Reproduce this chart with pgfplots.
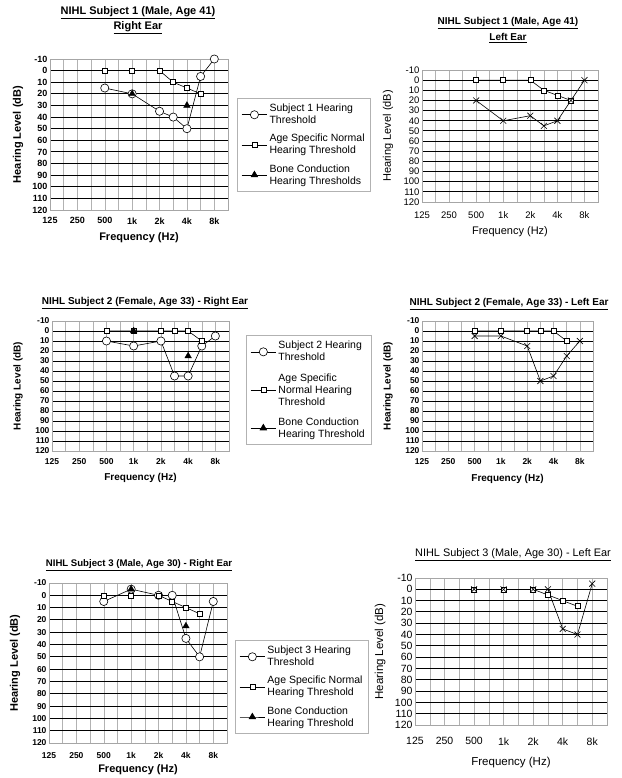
\documentclass[border=0pt]{standalone}
\usepackage{fontspec}
\setmainfont{Liberation Sans}
\usepackage{pgfplots}
\pgfplotsset{compat=1.18}
\pgfplotsset{
  audio/.style={
    scale only axis, anchor=north west,
    xmin=0, xmax=6.5, ymin=-10, ymax=120, y dir=reverse,
    xtick={0,...,6}, xticklabels={125,250,500,1k,2k,4k,8k},
    minor xtick={0.5,1.5,2.5,3.5,4.5,5.5},
    ytick={-10,0,...,120},
    xmajorgrids, xminorgrids, ymajorgrids,
    x grid style={gray!60, line width=0.5pt},
    minor x grid style={gray!60, line width=0.5pt},
    y grid style={black, line width=0.9pt},
    major tick length=0pt, minor tick length=0pt,
    axis line style={gray!70, line width=0.5pt},
    /pgf/number format/assume math mode=true,
    xticklabel style={yshift=-4pt},
    yticklabel style={xshift=1pt},
    clip=false,
    legend image code/.code={\draw[mark repeat=2,mark phase=2,##1] plot coordinates {(0cm,0cm)(0.45cm,0cm)(0.9cm,0cm)};},
  },
  circ/.style={black, line width=0.6pt, mark=*, mark size=4.1pt, mark options={fill=white, solid}},
  sq/.style={black, line width=0.6pt, mark=square*, mark size=2.5pt, mark options={fill=white, solid}},
  tri/.style={black, only marks, mark=triangle*, mark size=3.8pt},
  xx/.style={black, line width=0.6pt, mark=x, mark size=4.2pt},
  leg/.style={legend style={draw=gray!60, line width=0.5pt, anchor=north west, cells={align=left, anchor=west}, row sep=5pt, inner sep=4pt, font=\fontsize{10.5}{12}\selectfont}},
}
\begin{document}
\begin{tikzpicture}
\useasboundingbox (0,0) rectangle (621pt,-778pt);

% ---------- Panel 1 ----------
\node[font=\bfseries\fontsize{11}{12}\selectfont] at (138pt,-13pt) {\underline{NIHL Subject 1 (Male, Age 41)}};
\node[font=\bfseries\fontsize{11}{12}\selectfont] at (138pt,-28pt) {\underline{Right Ear}};
\begin{axis}[audio, leg, at={(50pt,-59pt)}, width=178pt, height=151pt,
  ticklabel style={font=\bfseries\fontsize{9}{10}\selectfont},
  xlabel={Frequency (Hz)}, ylabel={Hearing Level (dB)},
  label style={font=\bfseries\fontsize{11}{12}\selectfont},
  xlabel style={at={(axis description cs:0.5,-0.185)}, anchor=center},
  ylabel style={at={(axis description cs:-0.18,0.5)}, anchor=center},
  legend style={at={(1.051,0.742)}}]
\addplot[circ] coordinates {(2,15)(3,20)(4,35)(4.5,40)(5,50)(5.5,5)(6,-10)};
\addplot[sq] coordinates {(2,0)(3,0)(4,0)(4.5,10)(5,15)(5.5,20)};
\addplot[tri, forget plot] coordinates {(3,20)(5,30)};
\addlegendimage{black, line width=0.6pt, mark=triangle*, mark size=3.8pt}
\legend{Subject 1 Hearing\\Threshold, Age Specific Normal\\Hearing Threshold, Bone Conduction\\Hearing Thresholds}
\end{axis}

% ---------- Panel 2 ----------
\node[font=\bfseries\fontsize{10}{11}\selectfont] at (508pt,-23pt) {\underline{NIHL Subject 1 (Male, Age 41)}};
\node[font=\bfseries\fontsize{10}{11}\selectfont] at (508pt,-38pt) {\underline{Left Ear}};
\begin{axis}[audio, at={(422pt,-70pt)}, width=176pt, height=132pt,
  ticklabel style={font=\fontsize{9.5}{10}\selectfont},
  xticklabel style={yshift=-2pt},
  xlabel={Frequency (Hz)}, ylabel={Hearing Level (dB)},
  label style={font=\fontsize{11}{12}\selectfont},
  xlabel style={at={(axis description cs:0.5,-0.227)}, anchor=center},
  ylabel style={at={(axis description cs:-0.193,0.5)}, anchor=center}]
\addplot[sq] coordinates {(2,0)(3,0)(4,0)(4.5,10)(5,15)(5.5,20)};
\addplot[xx] coordinates {(2,20)(3,40)(4,35)(4.5,45)(5,40)(5.5,20)(6,0)};
\end{axis}

% ---------- Panel 3 ----------
\node[font=\bfseries\fontsize{10}{11}\selectfont] at (145pt,-303pt) {\underline{NIHL Subject 2 (Female, Age 33) - Right Ear}};
\begin{axis}[audio, leg, at={(52pt,-321pt)}, width=177pt, height=130pt,
  ticklabel style={font=\bfseries\fontsize{8.5}{9}\selectfont},
  xlabel={Frequency (Hz)}, ylabel={Hearing Level (dB)},
  label style={font=\bfseries\fontsize{10}{11}\selectfont},
  xlabel style={at={(axis description cs:0.5,-0.208)}, anchor=center},
  ylabel style={at={(axis description cs:-0.192,0.5)}, anchor=center},
  legend style={at={(1.096,0.892)}, row sep=7pt}]
\addplot[circ] coordinates {(2,10)(3,15)(4,10)(4.5,45)(5,45)(5.5,15)(6,5)};
\addplot[sq] coordinates {(2,0)(3,0)(4,0)(4.5,0)(5,0)(5.5,10)};
\addplot[tri, forget plot] coordinates {(3,0)(5,25)};
\addlegendimage{black, line width=0.6pt, mark=triangle*, mark size=3.8pt}
\legend{Subject 2 Hearing\\Threshold, Age Specific\\Normal Hearing\\Threshold, Bone Conduction\\Hearing Threshold}
\end{axis}

% ---------- Panel 4 ----------
\node[font=\bfseries\fontsize{10}{11}\selectfont] at (509pt,-304pt) {\underline{NIHL Subject 2 (Female, Age 33) - Left Ear}};
\begin{axis}[audio, at={(422pt,-321pt)}, width=171pt, height=130pt,
  ticklabel style={font=\bfseries\fontsize{8.5}{9}\selectfont},
  xlabel={Frequency (Hz)}, ylabel={Hearing Level (dB)},
  label style={font=\bfseries\fontsize{10}{11}\selectfont},
  xlabel style={at={(axis description cs:0.5,-0.215)}, anchor=center},
  ylabel style={at={(axis description cs:-0.199,0.5)}, anchor=center}]
\addplot[sq] coordinates {(2,0)(3,0)(4,0)(4.5,0)(5,0)(5.5,10)};
\addplot[xx] coordinates {(2,5)(3,5)(4,15)(4.5,50)(5,45)(5.5,25)(6,10)};
\end{axis}

% ---------- Panel 5 ----------
\node[font=\bfseries\fontsize{9.6}{11}\selectfont] at (139pt,-565pt) {\underline{NIHL Subject 3 (Male, Age 30) - Right Ear}};
\begin{axis}[audio, leg, at={(49pt,-583pt)}, width=178pt, height=160pt,
  ticklabel style={font=\bfseries\fontsize{8.5}{9}\selectfont},
  xticklabel style={yshift=-2pt},
  xlabel={Frequency (Hz)}, ylabel={Hearing Level (dB)},
  label style={font=\bfseries\fontsize{11}{12}\selectfont},
  xlabel style={at={(axis description cs:0.5,-0.169)}, anchor=center},
  ylabel style={at={(axis description cs:-0.191,0.5)}, anchor=center},
  legend style={at={(1.045,0.644)}}]
\addplot[circ] coordinates {(2,5)(3,-5)(4,0)(4.5,0)(5,35)(5.5,50)(6,5)};
\addplot[sq] coordinates {(2,0)(3,0)(4,0)(4.5,5)(5,10)(5.5,15)};
\addplot[tri, forget plot] coordinates {(3,-5)(5,25)};
\addlegendimage{black, line width=0.6pt, mark=triangle*, mark size=3.8pt}
\legend{Subject 3 Hearing\\Threshold, Age Specific Normal\\Hearing Threshold, Bone Conduction\\Hearing Threshold}
\end{axis}

% ---------- Panel 6 ----------
\node[font=\fontsize{10.9}{12}\selectfont] at (513pt,-555pt) {\underline{NIHL Subject 3 (Male, Age 30) - Left Ear}};
\begin{axis}[audio, at={(415pt,-578pt)}, width=192pt, height=147pt,
  ticklabel style={font=\fontsize{10.5}{11}\selectfont},
  xticklabel style={yshift=-5pt},
  xlabel={Frequency (Hz)}, ylabel={Hearing Level (dB)},
  label style={font=\fontsize{11.5}{13}\selectfont},
  xlabel style={at={(axis description cs:0.5,-0.252)}, anchor=center},
  ylabel style={at={(axis description cs:-0.182,0.5)}, anchor=center}]
\addplot[sq] coordinates {(2,0)(3,0)(4,0)(4.5,5)(5,10)(5.5,15)};
\addplot[xx] coordinates {(2,0)(3,0)(4,0)(4.5,0)(5,35)(5.5,40)(6,-5)};
\end{axis}
\end{tikzpicture}
\end{document}
